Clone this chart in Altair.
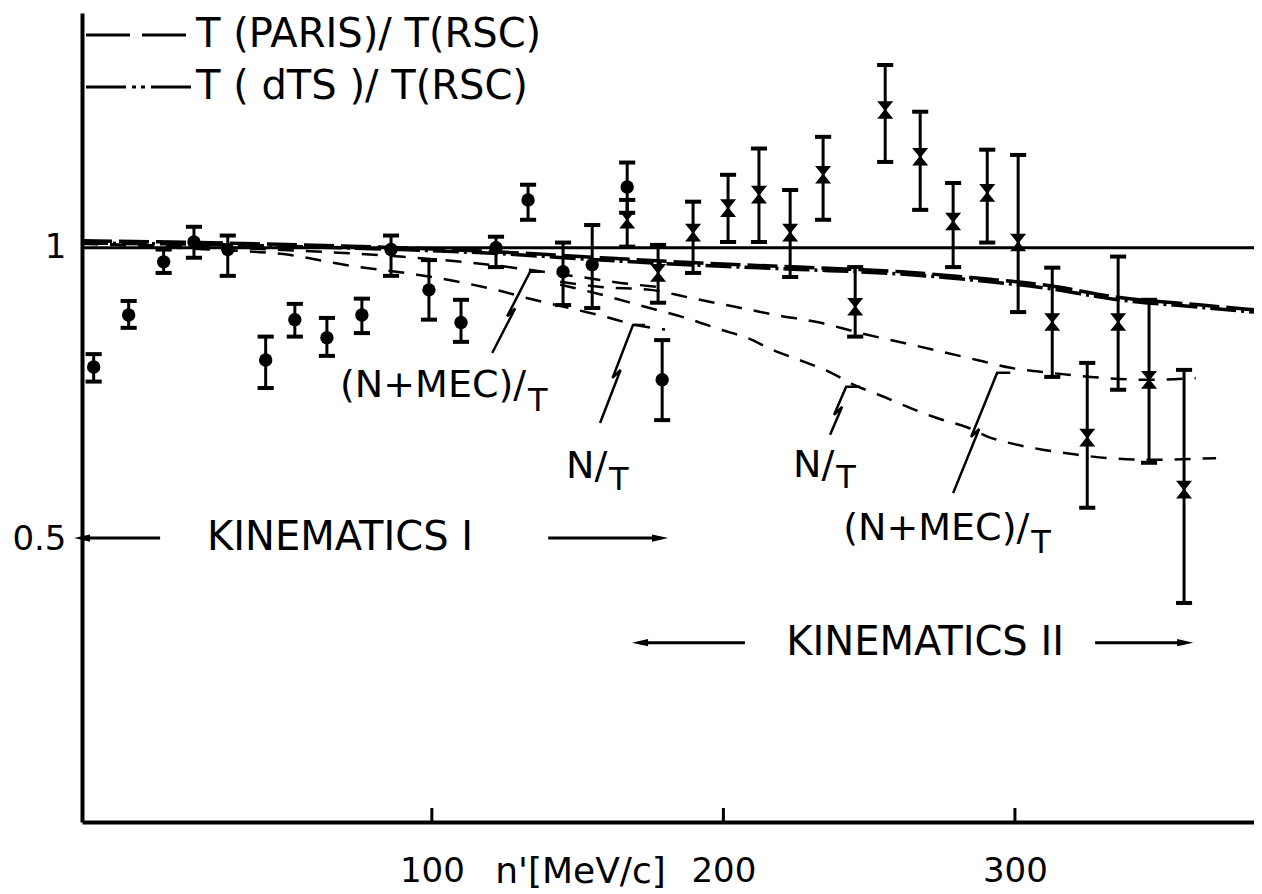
import altair as alt
import pandas as pd

# ---------------- data ----------------
# Kinematics I (filled circles)
kin1_x = [-16, -4, 8, 18.4, 30, 43, 53, 64, 76, 86, 99, 110, 122, 133, 145, 155, 167, 179]
kin1_y = [0.796, 0.885, 0.976, 1.010, 0.997, 0.808, 0.877, 0.846, 0.885, 0.997, 0.928, 0.872, 1.000, 1.082, 0.959, 0.971, 1.104, 0.774]
kin1_lo = [0.771, 0.863, 0.957, 0.983, 0.952, 0.760, 0.848, 0.815, 0.854, 0.952, 0.877, 0.839, 0.967, 1.048, 0.902, 0.897, 1.060, 0.705]
kin1_hi = [0.818, 0.909, 0.997, 1.036, 1.021, 0.848, 0.904, 0.880, 0.913, 1.021, 0.979, 0.911, 1.019, 1.108, 1.009, 1.039, 1.146, 0.842]

# Kinematics II (crosses)
kin2_x = [167, 177.6, 189.6, 201.6, 212.2, 222.9, 234.2, 245.2, 255.5, 267.5, 278.8, 290.5, 301.1, 312.8, 324.8, 335.4, 346, 358]
kin2_y = [1.048, 0.957, 1.026, 1.068, 1.091, 1.026, 1.125, 0.899, 1.236, 1.156, 1.045, 1.094, 1.009, 0.873, 0.675, 0.873, 0.774, 0.586]
kin2_lo = [1.002, 0.906, 0.957, 1.010, 1.010, 0.950, 1.048, 0.848, 1.147, 1.065, 0.967, 1.009, 0.890, 0.779, 0.555, 0.757, 0.632, 0.392]
kin2_hi = [1.082, 1.005, 1.079, 1.125, 1.170, 1.099, 1.190, 0.967, 1.313, 1.233, 1.111, 1.168, 1.159, 0.966, 0.803, 0.985, 0.911, 0.791]

# theory ratio curves
paris_x = [-20, 20, 55, 89, 123, 158, 192, 226, 261, 285, 312, 334, 364, 382]
paris_y = [1.012, 1.009, 1.005, 1.000, 0.993, 0.983, 0.974, 0.967, 0.959, 0.949, 0.935, 0.916, 0.902, 0.894]
dts_y = [1.008, 1.006, 1.002, 0.997, 0.990, 0.979, 0.970, 0.963, 0.955, 0.945, 0.930, 0.912, 0.898, 0.890]

nmec1_x = [-20, 20, 55, 89, 120, 134, 151, 168, 180]
nmec1_y = [1.007, 1.002, 0.995, 0.985, 0.971, 0.962, 0.950, 0.938, 0.932]
n1_x = [-20, 20, 51, 70, 95, 111, 122, 135, 147, 158, 170, 180]
n1_y = [1.007, 0.998, 0.988, 0.971, 0.954, 0.940, 0.928, 0.911, 0.897, 0.884, 0.868, 0.860]

nmec2_x = [144, 158, 175, 189, 204, 218, 233, 247, 262, 275, 287, 298, 312, 326, 346, 362]
nmec2_y = [0.942, 0.933, 0.928, 0.914, 0.899, 0.885, 0.872, 0.854, 0.837, 0.822, 0.808, 0.795, 0.786, 0.779, 0.774, 0.777]
n2_x = [144, 158, 171, 189, 199, 208, 217, 226, 237, 245, 255, 264, 273, 284, 291, 298, 310, 321, 332, 346, 369]
n2_y = [0.937, 0.920, 0.902, 0.877, 0.860, 0.846, 0.825, 0.808, 0.786, 0.765, 0.745, 0.726, 0.709, 0.692, 0.676, 0.666, 0.654, 0.646, 0.640, 0.637, 0.640]

x_ticks = [100, 200, 300]
y_ticks = [0.5, 1]

# annotation texts and anchors (data units)
ann_text = ["(N+MEC)/", "T", "N/", "T", "N/", "T", "(N+MEC)/", "T"]
ann_x = [68.5, 133.0, 146.0, 160.8, 223.9, 238.7, 241.1, 305.6]
ann_y = [0.745, 0.721, 0.606, 0.586, 0.608, 0.589, 0.500, 0.478]
ann_big = [True, False, True, False, True, False, True, False]

# leader lines: base, tip, tail
lead_bx = [120.7, 157.7, 236.6, 278.8]
lead_by = [0.820, 0.700, 0.680, 0.580]
lead_tx = [133.7, 169.0, 242.1, 293.9]
lead_ty = [0.959, 0.868, 0.762, 0.786]
lead_tail = [137.5, 173.1, 246.9, 298.4]

kin_text = ["KINEMATICS I", "KINEMATICS II"]
kin_text_x = [68.5, 269.2]
kin_y = [0.503, 0.324]
kin_left_from = [-20, 171.4]
kin_left_to = [6.8, 207.4]
kin_right_from = [139.9, 327.5]
kin_right_to = [178.3, 358.4]

legend_text = ["T (PARIS)/ T(RSC)", "T ( dTS )/ T(RSC)"]

# ---------------- chart ----------------
W, H = 1172, 809
XD = [-20, 382]
YD = [0.017, 1.402]
FONT = "DejaVu Sans"

xs = alt.Scale(domain=XD, nice=False, zero=False)
ys = alt.Scale(domain=YD, nice=False, zero=False)

xaxis = alt.Axis(values=x_ticks, title="n'[MeV/c]", grid=False, ticks=False,
                 domainColor="black", domainWidth=4, labelFont=FONT, labelFontSize=34,
                 labelColor="black", labelPadding=32, labelFlush=False, labelOverlap=False,
                 titleFont=FONT, titleFontSize=36, titleFontWeight="normal", titleColor="black",
                 titleX=498, titleY=60, titleAlign="center", titleBaseline="alphabetic")
yaxis = alt.Axis(values=y_ticks, format=".1~f", title=None, grid=False, ticks=False,
                 domainColor="black", domainWidth=4, labelFont=FONT, labelFontSize=34,
                 labelColor="black", labelPadding=16, labelFlush=False, labelOverlap=False)


def X(f="x"):
    return alt.X(f"{f}:Q", scale=xs, axis=xaxis)


def Y(f="y"):
    return alt.Y(f"{f}:Q", scale=ys, axis=yaxis)


k1 = pd.DataFrame(dict(x=kin1_x, y=kin1_y, lo=kin1_lo, hi=kin1_hi))
k2 = pd.DataFrame(dict(x=kin2_x, y=kin2_y, lo=kin2_lo, hi=kin2_hi))
pts = pd.concat([k1, k2])

cap = "M-1,0L1,0"
bars = alt.Chart(pts).mark_rule(color="black", strokeWidth=3).encode(x=X(), y=Y("lo"), y2="hi:Q")
cap_lo = alt.Chart(pts).mark_point(shape=cap, size=260, color="black", filled=False,
                                   strokeWidth=4, opacity=1).encode(x=X(), y=Y("lo"))
cap_hi = alt.Chart(pts).mark_point(shape=cap, size=260, color="black", filled=False,
                                   strokeWidth=4, opacity=1).encode(x=X(), y=Y("hi"))
m1 = alt.Chart(k1).mark_circle(size=180, color="black", opacity=1).encode(x=X(), y=Y())
m2 = alt.Chart(k2).mark_point(shape="M-0.8,-1L0.8,-1L-0.8,1L0.8,1Z", size=260, color="black",
                              filled=True, opacity=1, strokeWidth=1.5, stroke="black").encode(x=X(), y=Y())

ref = alt.Chart(pd.DataFrame({"y": [1.0]})).mark_rule(color="black", strokeWidth=3).encode(y=Y())


def curve(xv, yv, dash, width):
    d = pd.DataFrame(dict(x=xv, y=yv))
    return alt.Chart(d).mark_line(color="black", strokeWidth=width, strokeDash=dash,
                                  interpolate="monotone", clip=True).encode(x=X(), y=Y())


c_paris = curve(paris_x, paris_y, [30, 7], 3.5)
c_dts = curve(paris_x, dts_y, [26, 5, 3, 5], 3.5)
c_nmec1 = curve(nmec1_x, nmec1_y, [16, 12], 2.5)
c_n1 = curve(n1_x, n1_y, [16, 12], 2.5)
c_nmec2 = curve(nmec2_x, nmec2_y, [16, 12], 2.5)
c_n2 = curve(n2_x, n2_y, [16, 12], 2.5)

# inward tick marks on the x axis
xt = alt.Chart(pd.DataFrame({"x": x_ticks})).mark_rule(color="black", strokeWidth=3).encode(
    x=X(), y=alt.value(H - 14), y2=alt.value(H))

# annotation texts
ann = pd.DataFrame(dict(t=ann_text, x=ann_x, y=ann_y, big=ann_big))
ann_b = alt.Chart(ann[ann.big]).mark_text(font=FONT, fontSize=38, align="left",
                                          baseline="alphabetic", color="black").encode(
    x=X(), y=Y(), text="t:N")
ann_s = alt.Chart(ann[~ann.big]).mark_text(font=FONT, fontSize=32, align="left",
                                           baseline="alphabetic", color="black").encode(
    x=X(), y=Y(), text="t:N")

# leader lines with a lightning kink
ux = (XD[1] - XD[0]) / W
uy = (YD[1] - YD[0]) / H
rows = []
for i in range(len(lead_bx)):
    bx, by, tx, ty, tl = lead_bx[i], lead_by[i], lead_tx[i], lead_ty[i], lead_tail[i]
    mx, my = (bx + tx) / 2, (by + ty) / 2
    seq = [(bx, by), (mx + 4 * ux, my + 4 * uy), (mx - 4 * ux, my - 4 * uy), (tx, ty), (tl, ty)]
    for k, (a, b) in enumerate(seq):
        rows.append(dict(x=a, y=b, g=i, o=k))
lead = alt.Chart(pd.DataFrame(rows)).mark_line(color="black", strokeWidth=2.5).encode(
    x=X(), y=Y(), detail="g:N", order="o:Q")

# kinematics labels and arrows
kt = pd.DataFrame(dict(t=kin_text, x=kin_text_x, y=kin_y))
kin_lbl = alt.Chart(kt).mark_text(font=FONT, fontSize=40, align="center", baseline="middle",
                                  color="black").encode(x=X(), y=Y(), text="t:N")
ka = pd.DataFrame(dict(a=kin_left_from + kin_right_from, b=kin_left_to + kin_right_to,
                       y=kin_y + kin_y))
kin_lines = alt.Chart(ka).mark_rule(color="black", strokeWidth=3).encode(x=X("a"), x2="b:Q", y=Y())
hl = pd.DataFrame(dict(x=kin_left_from, y=kin_y))
hr = pd.DataFrame(dict(x=kin_right_to, y=kin_y))
head_l = alt.Chart(hl).mark_point(shape="M1,-0.45L-1,0L1,0.45Z", size=260, filled=True,
                                  color="black", opacity=1).encode(x=X(), y=Y())
head_r = alt.Chart(hr).mark_point(shape="M-1,-0.45L1,0L-1,0.45Z", size=260, filled=True,
                                  color="black", opacity=1).encode(x=X(), y=Y())

# legend in the top-left corner
lg = pd.DataFrame(dict(t=legend_text, py=[22, 74]))
leg_text = alt.Chart(lg).mark_text(font=FONT, fontSize=40, align="left", baseline="middle",
                                   color="black").encode(
    x=alt.value(114), y=alt.Y("py:Q", scale=None), text="t:N")
leg_l1 = alt.Chart(lg.iloc[[0]]).mark_rule(color="black", strokeWidth=3, strokeDash=[44, 12]).encode(
    x=alt.value(4), x2=alt.value(110), y=alt.Y("py:Q", scale=None))
leg_l2 = alt.Chart(lg.iloc[[1]]).mark_rule(color="black", strokeWidth=3,
                                          strokeDash=[40, 6, 4, 5, 4, 6]).encode(
    x=alt.value(4), x2=alt.value(110), y=alt.Y("py:Q", scale=None))

chart = alt.layer(
    ref, c_paris, c_dts, c_nmec1, c_n1, c_nmec2, c_n2,
    bars, cap_lo, cap_hi, m1, m2, xt,
    ann_b, ann_s, lead, kin_lbl, kin_lines, head_l, head_r,
    leg_text, leg_l1, leg_l2,
).properties(
    width=W, height=H,
    padding={"left": 74, "top": 5, "right": 0, "bottom": 70},
    autosize=alt.AutoSizeParams(type="none"),
    background="white",
).configure_view(stroke=None)

chart.save("out.html", embed_options={"renderer": "svg", "actions": False})
